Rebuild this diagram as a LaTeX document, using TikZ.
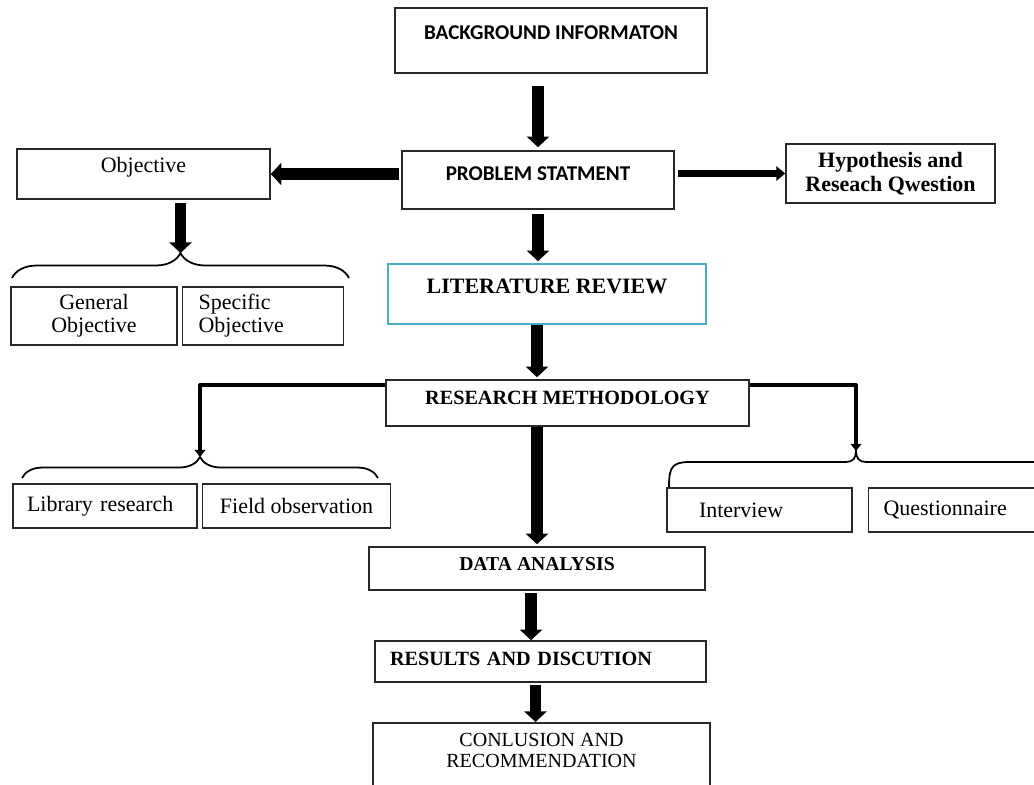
\documentclass[tikz,border=0pt]{standalone}
\usepackage{fontspec}
\setmainfont{Liberation Serif}
\newfontfamily\calfont{Carlito}
\usetikzlibrary{arrows.meta,positioning,decorations.pathreplacing}
\definecolor{litblue}{RGB}{75,172,198}
\definecolor{boxgray}{RGB}{40,40,40}

\begin{document}
\begin{tikzpicture}[
      x=0.02cm, y=-0.02cm,
      box/.style={draw=boxgray, line width=0.9pt, inner sep=0pt},
      sansbox/.style={box, font=\calfont\bfseries\fontsize{12}{13}\selectfont},
      headbox/.style={box, font=\bfseries\fontsize{11.5}{13}\selectfont},
      smallbox/.style={box, font=\fontsize{12.5}{13}\selectfont, minimum height=0.88cm},
      bigarrow/.style={-{Triangle[length=6pt,width=12.5pt]}, line width=6.5pt},
      thinarrow/.style={-{Triangle[length=5pt,width=8pt]}, line width=3.5pt},
      branch/.style={-{Triangle[length=4pt,width=6pt]}, line width=2.2pt, line join=round},
      bracket/.style={decorate, decoration={brace, amplitude=#1}, line width=1pt}
    ]
      \useasboundingbox (0,0) rectangle (1034,784);

      % Main column
      \node[sansbox, anchor=base, minimum width=6.24cm, text height=0.64cm, text depth=0.66cm] (bg) at (551,40) {BACKGROUND INFORMATON};
      \node[sansbox, anchor=base, minimum width=5.44cm, text height=0.58cm, text depth=0.58cm] (prob) at (538,180) {PROBLEM STATMENT};
      \node[headbox, draw=litblue, font=\bfseries\fontsize{12.5}{14}\selectfont, anchor=base, minimum width=6.36cm, text height=0.58cm, text depth=0.62cm] (lit) at (547,293) {LITERATURE REVIEW};
      \node[headbox, anchor=base, minimum width=7.26cm, text height=0.48cm, text depth=0.44cm] (rm) at (567.5,404) {RESEARCH METHODOLOGY};
      \node[headbox, font=\bfseries\fontsize{11.2}{13}\selectfont, anchor=base, minimum width=6.72cm, text height=0.46cm, text depth=0.40cm] (da) at (537,570) {DATA ANALYSIS};
      \node[headbox, anchor=base, text width=6.02cm, inner xsep=0.3cm, align=left, text height=0.48cm, text depth=0.34cm] (res) at (540.5,665) {RESULTS AND DISCUTION};
      \node[box, font=\fontsize{11.4}{12}\selectfont, anchor=north, minimum width=6.74cm, inner ysep=0.2cm, align=center] (con) at (541.5,722) {CONLUSION AND\\RECOMMENDATION\rule[-1.5cm]{0pt}{0pt}};

      % Side boxes
      \node[box, font=\fontsize{12.5}{14}\selectfont, anchor=base, minimum width=5.06cm, text height=0.48cm, text depth=0.52cm] (obj) at (143.5,173) {Objective};
      \node[box, font=\bfseries\fontsize{12.5}{13.6}\selectfont, align=center, minimum width=4.18cm, minimum height=1.18cm] (hyp) at (890.5,173.5) {Hypothesis and\\Reseach Qwestion};

      \node[smallbox, align=center, minimum width=3.32cm, minimum height=1.16cm] (gen) at (94,316) {General\\Objective};
      \node[smallbox, right=0.08cm of gen, align=left, text width=2.58cm, inner xsep=0.32cm, minimum height=1.16cm] (spec) {Specific\\Objective};

      \node[smallbox, align=left, text width=3.12cm, inner xsep=0.28cm] (lib) at (105,506) {Library research};
      \node[smallbox, right=0.08cm of lib, minimum width=3.76cm] (fld) {Field observation};

      \node[smallbox, align=left, text width=2.42cm, inner xsep=0.64cm] (int) at (759.5,510) {Interview};
      \node[smallbox, right=0.3cm of int, align=left, text width=2.86cm, inner xsep=0.3cm] (ques) {Questionnaire};

      % Braces
      \draw[bracket=0.5cm] (12,278) -- (349,278);
      \coordinate (objtip) at (180.5,253);
      \draw[bracket=0.42cm] (22,478) -- (378,478);
      \coordinate (libtip) at (200,457);
      \coordinate (inttip) at (856,451);
      \draw[line width=1pt] (669,487) .. controls (669,467) and (672,462) .. (690,462) -- (846,462)
        .. controls (853,462) and (856,458) .. (inttip) .. controls (856,458) and (859,462) .. (866,462) -- (1040,462);

      % Main flow
      \draw[bigarrow, shorten <=0.24cm, shorten >=0.06cm] (bg.south -| prob.north) -- (prob.north);
      \draw[bigarrow, shorten <=0.08cm, shorten >=0.04cm] (prob.south) -- (prob.south |- lit.north);
      \draw[bigarrow, shorten >=0.04cm] ([xshift=-0.2cm]lit.south) -- ([xshift=-0.2cm]lit.south |- rm.north);
      \draw[bigarrow, shorten >=0.04cm] (rm.south -| da.north) -- (da.north);
      \draw[bigarrow, shorten <=0.04cm] ([xshift=-0.12cm]da.south) -- ([xshift=-0.12cm]da.south |- res.north);
      \draw[bigarrow, shorten <=0.04cm] ([xshift=-0.1cm]res.south) -- ([xshift=-0.1cm]res.south |- con.north);

      % Branches
      \draw[bigarrow, shorten <=0.04cm] (prob.west |- obj.east) -- (obj.east);
      \draw[thinarrow, shorten <=0.06cm] (prob.east |- hyp.west) -- (hyp.west);
      \draw[bigarrow, shorten <=0.06cm] (obj.south -| objtip) -- (objtip);
      \draw[branch] ([yshift=-0.12cm]rm.north west) -| (libtip);
      \draw[branch] ([yshift=-0.12cm]rm.north east) -| (inttip);
    \end{tikzpicture}
\end{document}
